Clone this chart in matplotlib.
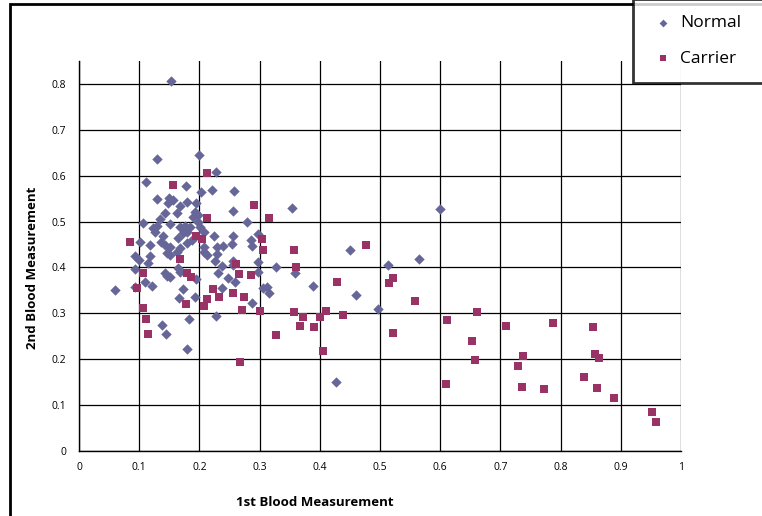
import matplotlib
matplotlib.use("Agg")
import matplotlib.pyplot as plt
from matplotlib.patches import Rectangle

plt.rcParams["font.family"] = ["Open Sans", "DejaVu Sans"]

# Normal group (diamonds)
normal_x = [0.152, 0.130, 0.199, 0.227, 0.112, 0.177, 0.221, 0.258, 0.203, 0.130,
            0.150, 0.156, 0.148, 0.179, 0.195, 0.168, 0.143, 0.163, 0.193, 0.197,
            0.190, 0.255, 0.135, 0.353, 0.279, 0.600, 0.107, 0.129, 0.123, 0.126,
            0.151, 0.168, 0.176, 0.184, 0.198, 0.201, 0.173, 0.179, 0.101, 0.139,
            0.137, 0.143, 0.118, 0.165, 0.179, 0.187, 0.207, 0.224, 0.256, 0.297,
            0.286, 0.254, 0.207, 0.229, 0.240, 0.287, 0.450, 0.564, 0.514, 0.497,
            0.298, 0.298, 0.359, 0.327, 0.259, 0.305, 0.313, 0.316, 0.389, 0.460,
            0.287, 0.427, 0.093, 0.099, 0.118, 0.115, 0.151, 0.146, 0.151, 0.168,
            0.162, 0.207, 0.212, 0.229, 0.226, 0.256, 0.093, 0.143, 0.151, 0.146,
            0.165, 0.168, 0.231, 0.248, 0.110, 0.060, 0.093, 0.121, 0.173, 0.237,
            0.166, 0.193, 0.227, 0.182, 0.138, 0.145, 0.179, 0.237, 0.194, 0.256]
normal_y = [0.807, 0.636, 0.645, 0.609, 0.587, 0.578, 0.569, 0.567, 0.564, 0.550,
            0.551, 0.546, 0.540, 0.543, 0.541, 0.533, 0.518, 0.519, 0.521, 0.514,
            0.510, 0.523, 0.505, 0.529, 0.500, 0.527, 0.496, 0.490, 0.485, 0.478,
            0.494, 0.488, 0.491, 0.489, 0.500, 0.489, 0.475, 0.478, 0.456, 0.468,
            0.456, 0.449, 0.449, 0.464, 0.454, 0.460, 0.477, 0.468, 0.468, 0.472,
            0.460, 0.451, 0.445, 0.445, 0.446, 0.446, 0.437, 0.418, 0.405, 0.309,
            0.411, 0.390, 0.387, 0.400, 0.369, 0.355, 0.357, 0.344, 0.360, 0.339,
            0.323, 0.150, 0.424, 0.416, 0.424, 0.409, 0.445, 0.431, 0.427, 0.442,
            0.434, 0.434, 0.427, 0.429, 0.415, 0.415, 0.397, 0.389, 0.380, 0.381,
            0.398, 0.391, 0.387, 0.376, 0.369, 0.351, 0.357, 0.360, 0.352, 0.355,
            0.333, 0.336, 0.295, 0.287, 0.275, 0.255, 0.222, 0.403, 0.374, 0.405]

# Carrier group (squares)
carrier_x = [0.212, 0.156, 0.212, 0.290, 0.315, 0.085, 0.194, 0.204, 0.304, 0.305,
             0.357, 0.476, 0.522, 0.515, 0.558, 0.521, 0.261, 0.266, 0.285, 0.360,
             0.429, 0.255, 0.274, 0.270, 0.300, 0.357, 0.372, 0.367, 0.400, 0.410,
             0.439, 0.391, 0.327, 0.406, 0.267, 0.661, 0.612, 0.709, 0.787, 0.854,
             0.652, 0.658, 0.738, 0.729, 0.857, 0.863, 0.610, 0.736, 0.772, 0.839,
             0.860, 0.889, 0.951, 0.958, 0.168, 0.106, 0.179, 0.186, 0.097, 0.222,
             0.233, 0.213, 0.177, 0.207, 0.107, 0.111, 0.114]
carrier_y = [0.605, 0.580, 0.507, 0.536, 0.507, 0.455, 0.468, 0.463, 0.462, 0.437,
             0.438, 0.449, 0.378, 0.367, 0.327, 0.257, 0.407, 0.386, 0.384, 0.400,
             0.369, 0.344, 0.336, 0.307, 0.305, 0.302, 0.293, 0.273, 0.293, 0.306,
             0.296, 0.271, 0.253, 0.218, 0.195, 0.303, 0.286, 0.273, 0.280, 0.271,
             0.239, 0.199, 0.207, 0.185, 0.211, 0.203, 0.145, 0.139, 0.135, 0.161,
             0.138, 0.116, 0.085, 0.063, 0.418, 0.389, 0.387, 0.380, 0.355, 0.352,
             0.336, 0.331, 0.320, 0.316, 0.311, 0.288, 0.254]

x_ticks = [0, 0.1, 0.2, 0.3, 0.4, 0.5, 0.6, 0.7, 0.8, 0.9, 1]
x_labels = ["0", "0.1", "0.2", "0.3", "0.4", "0.5", "0.6", "0.7", "0.8", "0.9", "1"]
y_ticks = [0, 0.1, 0.2, 0.3, 0.4, 0.5, 0.6, 0.7, 0.8]
y_labels = ["0", "0.1", "0.2", "0.3", "0.4", "0.5", "0.6", "0.7", "0.8"]

W, H = 762, 516
fig = plt.figure(figsize=(W / 100, H / 100), dpi=100)
ax = fig.add_axes([79 / W, 1 - 451 / H, (681 - 79) / W, (451 - 61) / H])

ax.scatter(normal_x, normal_y, marker="D", s=28, color="#666699",
           linewidths=0, label="Normal", zorder=3)
ax.scatter(carrier_x, carrier_y, marker="s", s=34, color="#993366",
           linewidths=0, label="Carrier", zorder=4)

ax.set_xlim(0, 1)
ax.set_ylim(0, 0.85)
ax.set_xticks(x_ticks)
ax.set_xticklabels(x_labels)
ax.set_yticks(y_ticks)
ax.set_yticklabels(y_labels)
ax.tick_params(axis="both", length=0, labelsize=7.5, colors="black")
ax.tick_params(axis="y", pad=9)
ax.tick_params(axis="x", pad=8)
ax.grid(True, color="black", linewidth=0.9)
ax.set_axisbelow(True)
for side in ["top", "right"]:
    ax.spines[side].set_visible(False)
for side in ["left", "bottom"]:
    ax.spines[side].set_color("black")
    ax.spines[side].set_linewidth(1.0)

fig.text(315 / W, 1 - 502 / H, "1st Blood Measurement", ha="center", va="center",
         fontsize=9.5, fontweight="bold")
fig.text(33 / W, 1 - 268 / H, "2nd Blood Measurement", ha="center", va="center",
         rotation=90, fontsize=9.5, fontweight="bold")

# outer chart border (runs past the cropped right/bottom edges)
fig.add_artist(Rectangle((10 / W, -0.1), 1.2, 1 - 4 / H + 0.1, transform=fig.transFigure,
                         fill=False, edgecolor="black", linewidth=2, clip_on=False))

leg = fig.legend(loc="upper left", bbox_to_anchor=(633 / W, 1 - 4 / H, 150 / W, 0.01),
                 mode="expand", fontsize=12.5, frameon=True, fancybox=False,
                 borderaxespad=0, borderpad=0.95, labelspacing=1.1,
                 handletextpad=0.15, handlelength=1.6, markerscale=0.75)
leg.get_frame().set_edgecolor("black")
leg.get_frame().set_linewidth(2)

fig.savefig("out.png", dpi=100)
